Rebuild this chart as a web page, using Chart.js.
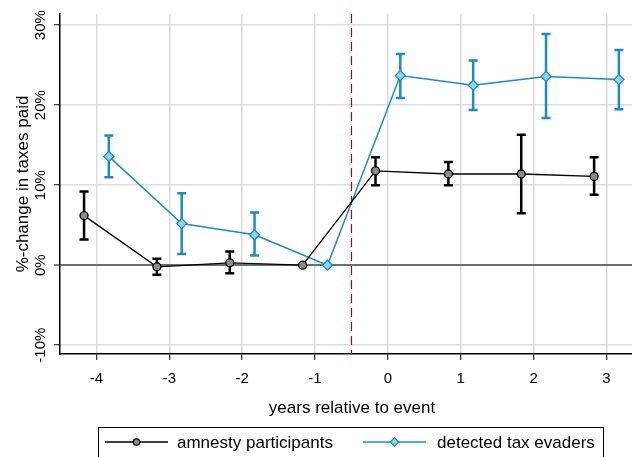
<!DOCTYPE html>
<html>
<head>
<meta charset="utf-8">
<script src="https://cdn.jsdelivr.net/npm/chart.js@4/dist/chart.umd.min.js"></script>
<style>
  html, body { margin: 0; padding: 0; background: #fff; overflow: hidden; }
  canvas { display: block; }
</style>
</head>
<body>
<canvas id="chart" width="632" height="457"></canvas>
<script>
// event years and y ticks
const years = [-4, -3, -2, -1, 0, 1, 2, 3];
const xTicks = [-4, -3, -2, -1, 0, 1, 2, 3];
const yTicks = [-10, 0, 10, 20, 30];
const yTickLabels = ['-10%', '0%', '10%', '20%', '30%'];
const xTitle = 'years relative to event';
const eventLine = -0.5;

// amnesty participants (%)
const amnestyLabel = 'amnesty participants';
const amnestyShift = -0.17;
const amnestyEst = [6.2, -0.2, 0.3, 0, 11.8, 11.4, 11.4, 11.1];
const amnestyLo  = [3.2, -1.2, -1.0, 0, 10.0, 10.0, 6.5, 8.8];
const amnestyHi  = [9.2, 0.8, 1.7, 0, 13.5, 12.9, 16.3, 13.5];

// detected tax evaders (%)
const evaderLabel = 'detected tax evaders';
const evaderShift = 0.17;
const evaderEst = [13.6, 5.2, 3.8, 0, 23.7, 22.5, 23.6, 23.2];
const evaderLo  = [11.0, 1.4, 1.2, 0, 20.9, 19.4, 18.4, 19.5];
const evaderHi  = [16.2, 9.0, 6.6, 0, 26.4, 25.6, 28.9, 26.9];

const BLUE = '#1a8cc2';
const FONT = "'Liberation Sans', Arial, sans-serif";

function points(est, shift) {
  return years.map((yr, i) => ({ x: yr + shift, y: est[i] }));
}

// stretch the plot to the right edge of the canvas
const fullWidth = {
  id: 'fullWidth',
  afterLayout(chart) {
    const x = chart.scales.x;
    x.right = chart.width;
    x.width = x.right - x.left;
    chart.chartArea.right = chart.width;
    chart.chartArea.width = chart.width - chart.chartArea.left;
    x.configure();
  }
};

// error bars with caps, under the markers
const errorBars = {
  id: 'errorBars',
  beforeDatasetsDraw(chart) {
    const { ctx, scales: { x, y } } = chart;
    const sets = [
      { shift: amnestyShift, lo: amnestyLo, hi: amnestyHi, color: '#000' },
      { shift: evaderShift, lo: evaderLo, hi: evaderHi, color: BLUE }
    ];
    ctx.save();
    ctx.lineWidth = 2.5;
    sets.forEach(s => {
      ctx.strokeStyle = s.color;
      years.forEach((yr, i) => {
        if (s.lo[i] === s.hi[i]) return;
        const px = x.getPixelForValue(yr + s.shift);
        const p1 = y.getPixelForValue(s.lo[i]);
        const p2 = y.getPixelForValue(s.hi[i]);
        ctx.beginPath();
        ctx.moveTo(px, p1); ctx.lineTo(px, p2);
        ctx.moveTo(px - 4.5, p1); ctx.lineTo(px + 4.5, p1);
        ctx.moveTo(px - 4.5, p2); ctx.lineTo(px + 4.5, p2);
        ctx.stroke();
      });
    });
    // dashed event line
    const ex = x.getPixelForValue(eventLine);
    ctx.strokeStyle = '#b8001e';
    ctx.lineWidth = 1.2;
    ctx.setLineDash([9, 5]);
    ctx.beginPath();
    ctx.moveTo(ex, chart.chartArea.top);
    ctx.lineTo(ex, chart.chartArea.bottom);
    ctx.stroke();
    ctx.restore();
  }
};

// rotated y tick labels, x title and legend box
const extras = {
  id: 'extras',
  afterDraw(chart) {
    const { ctx, scales: { y } } = chart;
    ctx.save();
    ctx.fillStyle = '#000';
    ctx.font = '15px ' + FONT;
    ctx.textAlign = 'center';
    ctx.textBaseline = 'middle';
    yTicks.forEach((v, i) => {
      ctx.save();
      ctx.translate(41, y.getPixelForValue(v));
      ctx.rotate(-Math.PI / 2);
      ctx.fillText(yTickLabels[i], 0, 0);
      ctx.restore();
    });

    ctx.font = '17px ' + FONT;
    ctx.fillText(xTitle, 352, 408);

    // legend
    ctx.strokeStyle = '#000';
    ctx.lineWidth = 1;
    ctx.strokeRect(98.5, 427.5, 505, 40);
    const ly = 442;
    const items = [
      { x0: 105, x1: 168, tx: 177, ds: chart.data.datasets[0] },
      { x0: 363, x1: 426, tx: 437, ds: chart.data.datasets[1] }
    ];
    ctx.textAlign = 'left';
    items.forEach(it => {
      const ds = it.ds;
      ctx.strokeStyle = ds.borderColor;
      ctx.lineWidth = ds.borderWidth;
      ctx.beginPath();
      ctx.moveTo(it.x0, ly); ctx.lineTo(it.x1, ly);
      ctx.stroke();
      const cx = (it.x0 + it.x1) / 2;
      const r = ds.pointRadius - 0.8;
      ctx.fillStyle = ds.pointBackgroundColor;
      ctx.strokeStyle = ds.pointBorderColor;
      ctx.lineWidth = ds.pointBorderWidth;
      ctx.beginPath();
      if (ds.pointStyle === 'rectRot') {
        ctx.moveTo(cx, ly - r); ctx.lineTo(cx + r, ly);
        ctx.lineTo(cx, ly + r); ctx.lineTo(cx - r, ly);
        ctx.closePath();
      } else {
        ctx.arc(cx, ly, r, 0, Math.PI * 2);
      }
      ctx.fill(); ctx.stroke();
      ctx.fillStyle = '#000';
      ctx.fillText(ds.label, it.tx, ly + 1);
    });
    ctx.restore();
  }
};

new Chart(document.getElementById('chart'), {
  type: 'scatter',
  data: {
    datasets: [
      {
        label: amnestyLabel,
        data: points(amnestyEst, amnestyShift),
        showLine: true,
        borderColor: '#000',
        borderWidth: 1.3,
        pointStyle: 'circle',
        pointRadius: 4,
        pointBackgroundColor: '#8c8c8c',
        pointBorderColor: '#000',
        pointBorderWidth: 1.3
      },
      {
        label: evaderLabel,
        data: points(evaderEst, evaderShift),
        showLine: true,
        borderColor: BLUE,
        borderWidth: 1.5,
        pointStyle: 'rectRot',
        pointRadius: 5,
        pointBackgroundColor: '#8fd3ec',
        pointBorderColor: BLUE,
        pointBorderWidth: 1.3
      }
    ]
  },
  options: {
    responsive: false,
    animation: false,
    layout: { padding: { top: 14, right: 0, left: 0, bottom: 0 } },
    plugins: {
      legend: { display: false },
      tooltip: { enabled: false }
    },
    scales: {
      x: {
        type: 'linear',
        min: -4.5,
        max: 3.35,
        afterBuildTicks: s => { s.ticks = xTicks.map(v => ({ value: v })); },
        afterFit: s => { s.height = 103; s.paddingRight = 0; s.paddingLeft = 0; },
        border: { color: '#000', width: 1.5 },
        grid: { color: '#dcdcdc', lineWidth: 1.5, tickColor: '#000', tickLength: 6, tickWidth: 1 },
        ticks: { color: '#000', font: { family: FONT, size: 15 }, padding: 10, maxRotation: 0 }
      },
      y: {
        min: -11.1,
        max: 31.4,
        afterBuildTicks: s => { s.ticks = yTicks.map(v => ({ value: v })); },
        afterFit: s => { s.width = 60; s.paddingTop = 0; s.paddingBottom = 0; },
        border: { color: '#000', width: 1.5 },
        grid: {
          color: c => c.tick && c.tick.value === 0 ? '#6e6e6e' : '#dcdcdc',
          lineWidth: c => c.tick && c.tick.value === 0 ? 2 : 1.5,
          tickColor: '#000', tickLength: 6, tickWidth: 1
        },
        ticks: { display: false },
        title: {
          display: true,
          text: '%-change in taxes paid',
          color: '#000',
          font: { family: FONT, size: 17 },
          padding: { top: 13 }
        }
      }
    }
  },
  plugins: [fullWidth, errorBars, extras]
});
</script>
</body>
</html>
